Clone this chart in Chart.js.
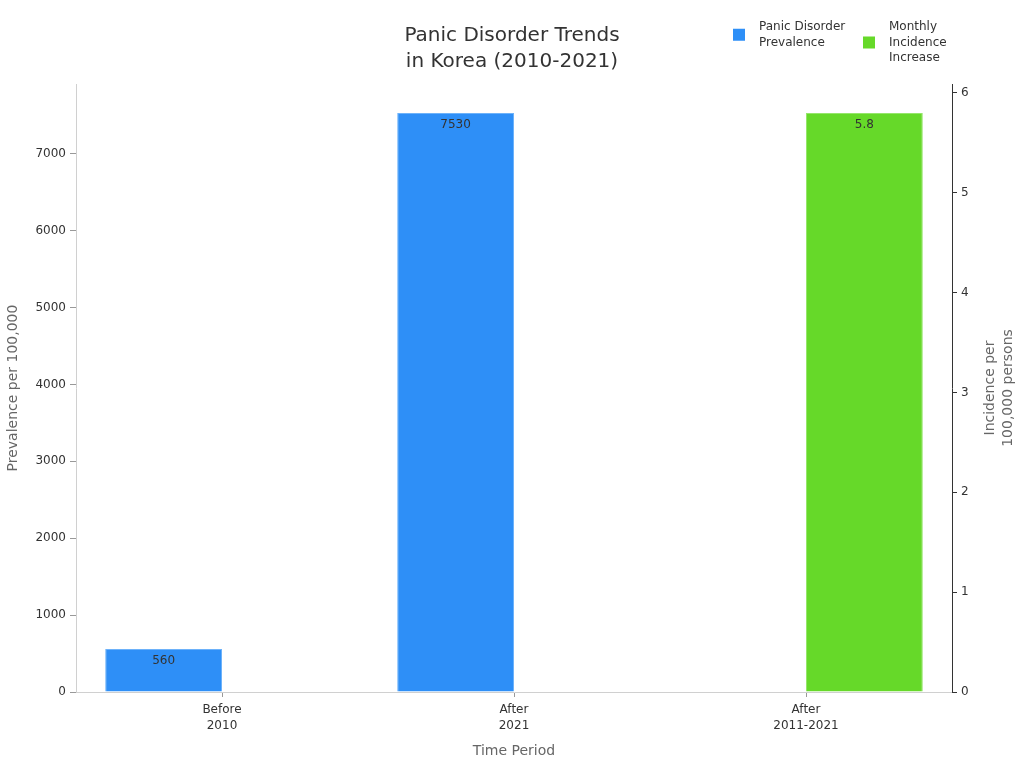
<!DOCTYPE html>
<html>
<head>
<meta charset="utf-8">
<script src="https://cdn.jsdelivr.net/npm/chart.js@4"></script>
<style>
  html, body { margin: 0; padding: 0; background: #fff; }
  #wrap { width: 1024px; height: 768px; }
</style>
</head>
<body>
<div id="wrap"><canvas id="panicChart" width="1024" height="768"></canvas></div>
<script>
const categories = [["Before", "2010"], ["After", "2021"], ["After", "2011-2021"]];
const prevalence = [560, 7530, null];
const incidence = [null, null, 5.8];
const seriesNames = [["Panic Disorder", "Prevalence"], ["Monthly", "Incidence", "Increase"]];
const titleLines = ["Panic Disorder Trends", "in Korea (2010-2021)"];
const leftTicks = [0, 1000, 2000, 3000, 4000, 5000, 6000, 7000];
const rightTicks = [0, 1, 2, 3, 4, 5, 6];

const FONT = "'DejaVu Sans', sans-serif";
const blue = '#2e8ff7';
const green = '#66d929';

// draws title, legend, axis titles and the value labels
const decorations = {
    id: 'decorations',
    afterDraw(chart) {
        const ctx = chart.ctx;
        const area = chart.chartArea;
        ctx.save();

        // title
        ctx.fillStyle = '#333';
        ctx.font = '20px ' + FONT;
        ctx.textAlign = 'center';
        ctx.textBaseline = 'middle';
        ctx.fillText(titleLines[0], 512, 36);
        ctx.fillText(titleLines[1], 512, 62);

        // legend
        ctx.font = '12px ' + FONT;
        ctx.textAlign = 'left';
        const legend = [
            { x: 733, color: blue, lines: seriesNames[0] },
            { x: 863, color: green, lines: seriesNames[1] }
        ];
        legend.forEach(item => {
            const top = 27;
            const lh = 15.5;
            const mid = top + (item.lines.length - 1) * lh / 2;
            ctx.fillStyle = item.color;
            ctx.fillRect(item.x, mid - 6, 12, 12);
            ctx.fillStyle = '#333';
            item.lines.forEach((t, i) => ctx.fillText(t, item.x + 26, top + i * lh));
        });

        // axis titles
        ctx.fillStyle = '#666';
        ctx.font = '14px ' + FONT;
        ctx.textAlign = 'center';
        ctx.fillText('Time Period', (area.left + area.right) / 2, 751);

        ctx.save();
        ctx.translate(13, (area.top + area.bottom) / 2);
        ctx.rotate(-Math.PI / 2);
        ctx.fillText('Prevalence per 100,000', 0, 0);
        ctx.restore();

        ctx.save();
        ctx.translate(999, (area.top + area.bottom) / 2);
        ctx.rotate(-Math.PI / 2);
        ctx.fillText('Incidence per', 0, -9);
        ctx.fillText('100,000 persons', 0, 9);
        ctx.restore();

        // value labels
        ctx.fillStyle = '#333';
        ctx.font = '12px ' + FONT;
        chart.data.datasets.forEach((ds, di) => {
            const meta = chart.getDatasetMeta(di);
            meta.data.forEach((bar, i) => {
                const v = ds.data[i];
                if (v === null || v === undefined) return;
                ctx.fillText(String(v), bar.x, bar.y + 12);
            });
        });
        ctx.restore();
    }
};

new Chart(document.getElementById('panicChart').getContext('2d'), {
    type: 'bar',
    data: {
        labels: categories,
        datasets: [{
            label: 'Panic Disorder Prevalence',
            data: prevalence,
            backgroundColor: blue,
            borderColor: '#6db2fa',
            borderWidth: 1,
            yAxisID: 'y'
        }, {
            label: 'Monthly Incidence Increase',
            data: incidence,
            backgroundColor: green,
            borderColor: '#95e66a',
            borderWidth: 1,
            yAxisID: 'y1'
        }]
    },
    options: {
        responsive: false,
        animation: false,
        devicePixelRatio: 1,
        layout: { padding: { top: 84, bottom: 0, left: 0, right: 0 } },
        datasets: { bar: { categoryPercentage: 0.8, barPercentage: 1.0 } },
        scales: {
            x: {
                offset: true,
                grid: { offset: false, drawOnChartArea: false, tickLength: 5, color: '#999' },
                border: { color: '#d0d0d0' },
                ticks: { color: '#333', font: { family: FONT, size: 12, lineHeight: 1.35 }, maxRotation: 0, padding: 5 },
                afterFit(scale) { scale.height = 76; }
            },
            y: {
                position: 'left',
                min: 0,
                max: 7530 * 1.05,
                grid: { drawOnChartArea: false, tickLength: 6, color: '#999' },
                border: { color: '#d0d0d0' },
                ticks: {
                    color: '#333',
                    font: { family: FONT, size: 12 },
                    padding: 4,
                    callback: v => String(v)
                },
                afterBuildTicks(scale) { scale.ticks = leftTicks.map(v => ({ value: v })); },
                afterFit(scale) { scale.width = 76; }
            },
            y1: {
                position: 'right',
                min: 0,
                max: 5.8 * 1.05,
                grid: { drawOnChartArea: false, tickLength: 5, color: '#333' },
                border: { color: '#333' },
                ticks: {
                    color: '#333',
                    font: { family: FONT, size: 12 },
                    padding: 4,
                    callback: v => String(v)
                },
                afterBuildTicks(scale) { scale.ticks = rightTicks.map(v => ({ value: v })); },
                afterFit(scale) { scale.width = 72; }
            }
        },
        plugins: {
            legend: { display: false },
            title: { display: false },
            tooltip: { enabled: false }
        }
    },
    plugins: [decorations]
});
</script>
</body>
</html>
